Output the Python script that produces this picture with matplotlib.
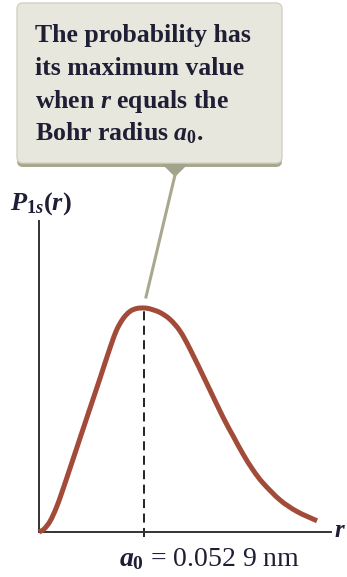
import matplotlib
matplotlib.use('Agg')
import matplotlib.pyplot as plt
import numpy as np
from matplotlib.patches import FancyBboxPatch, Polygon, PathPatch
from matplotlib.path import Path

# ---- data (r in units of a0, probability relative to maximum) ----
r_a0 = [0.0, 0.048, 0.105, 0.162, 0.219, 0.295, 0.39, 0.486, 0.581, 0.657,
        0.733, 0.8, 0.867, 0.933, 1.0, 1.057, 1.152, 1.248, 1.343, 1.438,
        1.6, 1.752, 1.848, 1.943, 2.038, 2.133, 2.295, 2.457, 2.648]
p_rel = [0.0, 0.013, 0.048, 0.105, 0.178, 0.284, 0.418, 0.553, 0.686, 0.795,
         0.895, 0.952, 0.985, 0.998, 1.0, 0.996, 0.980, 0.949, 0.897, 0.817,
         0.661, 0.513, 0.429, 0.348, 0.277, 0.219, 0.143, 0.0915, 0.050]
callout_lines = ["The probability has", "its maximum value",
                 "when $r$ equals the", "Bohr radius $a_0$."]
y_label = r"$P_{1s}(r)$"
x_label = r"$r$"
peak_label = r"$a_0$ = 0.052 9 nm"

plt.rcParams['font.family'] = ['Liberation Serif', 'DejaVu Serif']
plt.rcParams['mathtext.fontset'] = 'custom'
plt.rcParams['mathtext.rm'] = 'Liberation Serif:bold'
plt.rcParams['mathtext.it'] = 'Liberation Serif:italic:bold'
plt.rcParams['mathtext.bf'] = 'Liberation Serif:bold'

W, H = 347, 577
fig = plt.figure(figsize=(W / 100, H / 100), dpi=100)
fig.patch.set_facecolor('white')

# overlay in pixel coordinates for the callout
ov = fig.add_axes([0, 0, 1, 1])
ov.set_xlim(0, W)
ov.set_ylim(H, 0)
ov.axis('off')

# main axes
x0, y0, x1, y1 = 39, 532, 331, 221   # pixel box of the axes
ax = fig.add_axes([x0 / W, 1 - y0 / H, (x1 - x0) / W, (y0 - y1) / H])
ax.set_facecolor('none')
ax.set_xlim(0, (x1 - x0) / 105)
ax.set_ylim(0, (y0 - y1) / 224)
for s in ['top', 'right']:
    ax.spines[s].set_visible(False)
for s in ['left', 'bottom']:
    ax.spines[s].set_color('#333333')
    ax.spines[s].set_linewidth(1.4)
ax.set_xticks([])
ax.set_yticks([])

text_color = '#1e1e34'

# smooth rendering of the read points: Catmull-Rom segments as cubic Beziers
pts = np.column_stack([r_a0, p_rel])
n = len(pts)
verts = [tuple(pts[0])]
codes = [Path.MOVETO]
for i in range(n - 1):
    p0 = pts[max(i - 1, 0)]
    p1 = pts[i]
    p2 = pts[i + 1]
    p3 = pts[min(i + 2, n - 1)]
    c1 = p1 + (p2 - p0) / 6.0
    c2 = p2 - (p3 - p1) / 6.0
    verts += [tuple(c1), tuple(c2), tuple(p2)]
    codes += [Path.CURVE4] * 3
curve = PathPatch(Path(verts, codes), facecolor='none', edgecolor='#a24b38',
                  lw=3.6, joinstyle='round', capstyle='butt',
                  transform=ax.transData, clip_on=False, zorder=3)
ax.add_patch(curve)

i_pk = int(np.argmax(p_rel))
r_pk, p_pk = r_a0[i_pk], p_rel[i_pk]
ax.plot([r_pk, r_pk], [-0.022, p_pk], color='#111111', lw=1.3,
        dashes=(5, 3), clip_on=False, zorder=2)

# callout box
shadow = FancyBboxPatch((17, 5), 265, 162, boxstyle='round,pad=0,rounding_size=6',
                        facecolor='#a9a88f', edgecolor='none', zorder=1)
box = FancyBboxPatch((17, 3), 265, 160, boxstyle='round,pad=0,rounding_size=6',
                     facecolor='#e7e7dd', edgecolor='#d2d2c4', lw=1, zorder=2)
ov.add_patch(shadow)
ov.add_patch(box)
ov.add_patch(Polygon([(162, 164), (188, 164), (175, 177)], closed=True,
                     facecolor='#a3a28a', edgecolor='none', zorder=2))

fig.canvas.draw()
dx, dy = ax.transData.transform((r_pk, p_pk))
px, py = dx, H - dy
ov.plot([175, px + 2], [175, py - 11], color='#a9a88f', lw=2.2, zorder=2)

baselines = [42, 75, 108, 140]
for line, b in zip(callout_lines, baselines):
    ov.text(35, b, line, fontsize=18.5, fontweight='bold', color=text_color,
            ha='left', va='baseline', zorder=3)

ov.text(10, 210, y_label, fontsize=19, color=text_color, ha='left', va='baseline')
ov.text(340, 537, x_label, fontsize=18, color=text_color, ha='center', va='baseline')
ov.text(210, 566, peak_label, fontsize=20, color=text_color,
        ha='center', va='baseline')

fig.savefig('out.png', dpi=100, facecolor='white')
